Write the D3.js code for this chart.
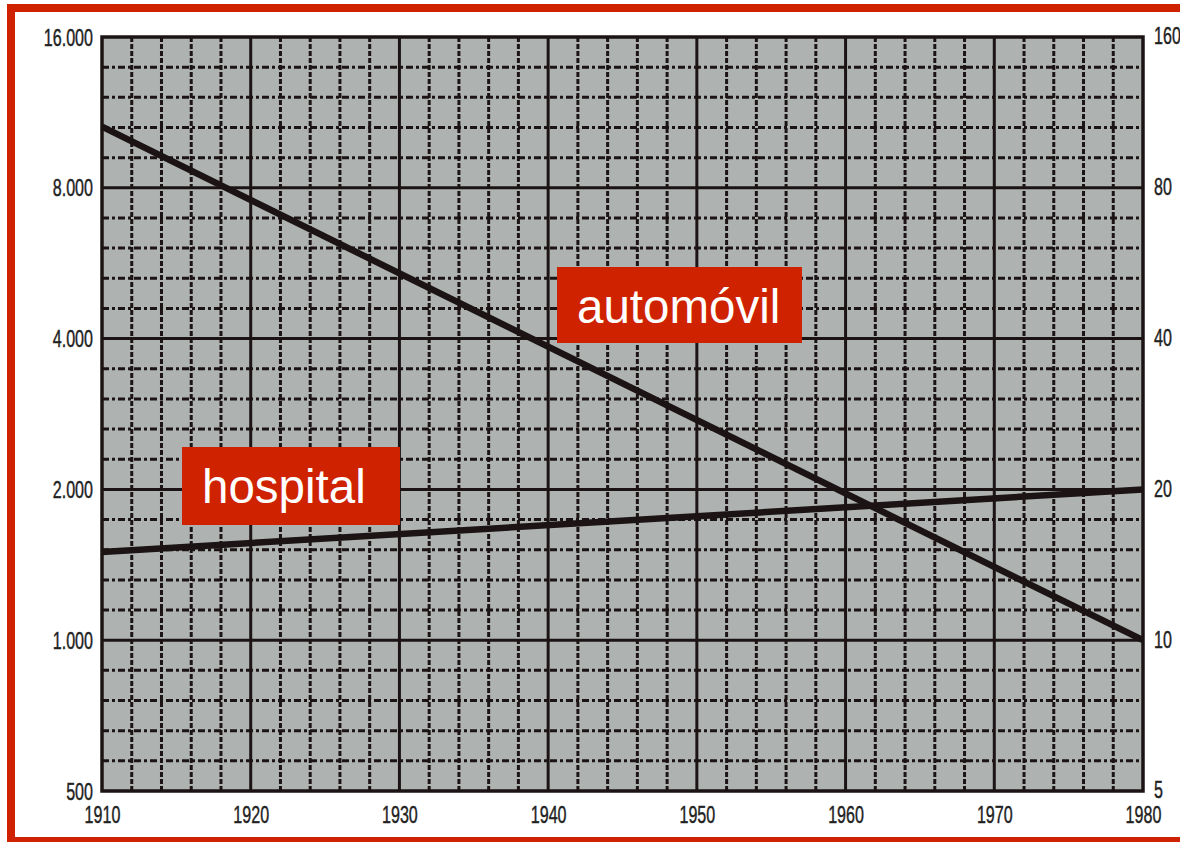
<!DOCTYPE html>
<html><head><meta charset="utf-8">
<script src="https://cdn.jsdelivr.net/npm/d3@7"></script>
<style>
html,body{margin:0;padding:0;background:#fff;}
svg{display:block;}
</style>
</head><body>
<svg id="chart" width="1180" height="842"></svg>
<script>
// ---- data ----
const years = [1910, 1980];
const autoValues = [10600, 1000];        // left axis
const hospitalValues = [15.0, 20];       // right axis
const xTicks = [1910, 1920, 1930, 1940, 1950, 1960, 1970, 1980];
const leftTicks = [500, 1000, 2000, 4000, 8000, 16000];
const leftTickLabels = ["500", "1.000", "2.000", "4.000", "8.000", "16.000"];
const rightTicks = [5, 10, 20, 40, 80, 160];
const rightTickLabels = ["5", "10", "20", "40", "80", "160"];
const labels = ["automóvil", "hospital"];

// ---- layout ----
const svg = d3.select("#chart");
const L = 102, R = 1143, T = 37, B = 791;
const x = d3.scaleLinear().domain([1910, 1980]).range([L, R]);
const yL = d3.scaleLog().domain([500, 16000]).range([B, T]);
const yR = d3.scaleLog().domain([5, 160]).range([B, T]);
const ink = "#1c1414";
const red = "#cf2200";

// frame
svg.append("rect").attr("x", 11).attr("y", 8).attr("width", 1180).attr("height", 833)
  .attr("fill", "none").attr("stroke", red).attr("stroke-width", 8);

// plot background
svg.append("rect").attr("x", L).attr("y", T).attr("width", R - L).attr("height", B - T)
  .attr("fill", "#aeb3b2");

const grid = svg.append("g");
// minor vertical (every 2 years)
const minorYears = d3.range(1912, 1980, 2).filter(v => v % 10 !== 0);
grid.selectAll(".mv").data(minorYears).join("line")
  .attr("x1", d => x(d)).attr("x2", d => x(d)).attr("y1", T).attr("y2", B)
  .attr("stroke", ink).attr("stroke-width", 3).attr("stroke-dasharray", "5,2");
// minor horizontal (5 per doubling)
const minorY = d3.range(1, 25).filter(k => k % 5 !== 0).map(k => 500 * Math.pow(2, k / 5));
grid.selectAll(".mh").data(minorY).join("line")
  .attr("x1", L).attr("x2", R).attr("y1", d => yL(d)).attr("y2", d => yL(d))
  .attr("stroke", ink).attr("stroke-width", 3).attr("stroke-dasharray", "7,3,3,3");
// major
grid.selectAll(".Mv").data(xTicks.slice(1, -1)).join("line")
  .attr("x1", d => x(d)).attr("x2", d => x(d)).attr("y1", T).attr("y2", B)
  .attr("stroke", ink).attr("stroke-width", 3);
grid.selectAll(".Mh").data(leftTicks.slice(1, -1)).join("line")
  .attr("x1", L).attr("x2", R).attr("y1", d => yL(d)).attr("y2", d => yL(d))
  .attr("stroke", ink).attr("stroke-width", 3);

// border
svg.append("rect").attr("x", L).attr("y", T).attr("width", R - L).attr("height", B - T)
  .attr("fill", "none").attr("stroke", ink).attr("stroke-width", 3.5);

// series
const line = (ys) => d3.line().x((d, i) => x(years[i])).y(d => ys(d));
svg.append("path").datum(autoValues).attr("d", line(yL))
  .attr("fill", "none").attr("stroke", ink).attr("stroke-width", 6.5);
svg.append("path").datum(hospitalValues).attr("d", line(yR))
  .attr("fill", "none").attr("stroke", ink).attr("stroke-width", 6.5);

// axes
const axFont = "'Liberation Sans', Arial, sans-serif";
const axL = svg.append("g").attr("transform", `translate(${L - 9},0)`)
  .call(d3.axisLeft(yL).tickValues(leftTicks).tickFormat((d, i) => leftTickLabels[i]).tickSize(0).tickPadding(0));
const axR = svg.append("g").attr("transform", `translate(${R + 11},0)`)
  .call(d3.axisRight(yR).tickValues(rightTicks).tickFormat((d, i) => rightTickLabels[i]).tickSize(0).tickPadding(0));
const axB = svg.append("g").attr("transform", `translate(0,${B + 24})`)
  .call(d3.axisBottom(x).tickValues(xTicks).tickFormat(d3.format("d")).tickSize(0).tickPadding(0));
[axL, axR, axB].forEach(a => {
  a.select(".domain").remove();
  a.selectAll("text").attr("font-family", axFont).attr("font-size", 23).attr("fill", "#222")
    .attr("stroke", "#222").attr("stroke-width", 0.4)
    .attr("x", 0).attr("y", 0).attr("transform", "scale(0.7,1)");
});
axL.selectAll("text").attr("dy", "0.35em");
axR.selectAll("text").attr("dy", "0.3em");
axB.selectAll("text").attr("dy", "0.36em");

// annotation labels
const ann = [
  {t: labels[0], x: 557, y: 267, w: 245, h: 76, base: 323},
  {t: labels[1], x: 182, y: 447, w: 218, h: 78, base: 503}
];
ann.forEach(a => {
  svg.append("rect").attr("x", a.x).attr("y", a.y).attr("width", a.w).attr("height", a.h).attr("fill", red);
  svg.append("text").attr("x", a.x + 20).attr("y", a.base).attr("text-anchor", "start")
    .attr("font-family", "'Liberation Sans', Arial, sans-serif").attr("font-size", 47.5)
    .attr("fill", "#fff").text(a.t);
});
</script>
</body></html>
